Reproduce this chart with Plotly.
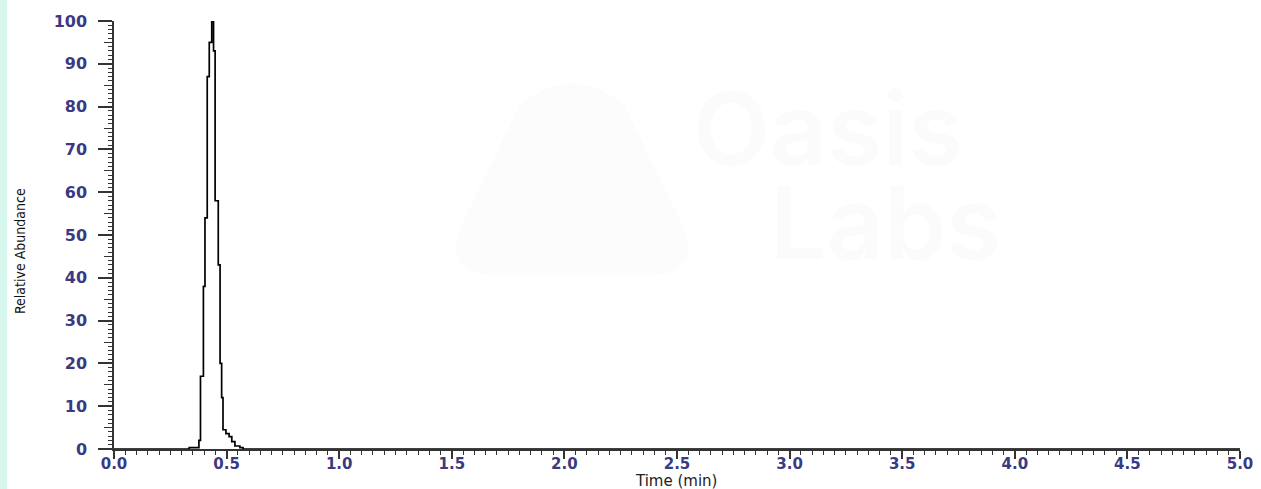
import plotly.graph_objects as go

# Chromatogram (step trace), time in minutes, relative abundance in %
time_min = [0.000, 0.334, 0.377, 0.384, 0.397, 0.404, 0.414, 0.423, 0.434, 0.442,
            0.449, 0.463, 0.471, 0.478, 0.484, 0.497, 0.511, 0.523, 0.537, 0.559,
            0.573, 5.000]
abundance = [0.0, 0.3, 2.0, 17.0, 38.0, 54.0, 87.0, 95.0, 100.0, 93.0,
             58.0, 43.0, 20.0, 12.0, 4.5, 3.6, 2.9, 1.7, 0.7, 0.3,
             0.0, 0.0]

x_ticks = [0.0, 0.5, 1.0, 1.5, 2.0, 2.5, 3.0, 3.5, 4.0, 4.5, 5.0]
x_labels = ["0.0", "0.5", "1.0", "1.5", "2.0", "2.5", "3.0", "3.5", "4.0", "4.5", "5.0"]
y_ticks = [0, 10, 20, 30, 40, 50, 60, 70, 80, 90, 100]
y_mid_ticks = [5, 15, 25, 35, 45, 55, 65, 75, 85, 95]

label_color = "#3a3a82"
axis_color = "#333333"

fig = go.Figure()
fig.add_trace(go.Scatter(
    x=time_min, y=abundance, mode="lines",
    line=dict(color="black", width=1.7, shape="hv"),
    showlegend=False, hoverinfo="x+y",
))
# invisible trace to anchor the mid-tick axis
fig.add_trace(go.Scatter(x=[0], y=[0], yaxis="y2", mode="markers",
                         marker=dict(opacity=0), showlegend=False, hoverinfo="skip"))

W, H = 1261, 489
L, R, T, B = 114, 21, 21, 40
pw, ph = W - L - R, H - T - B


def px(xp):
    return (xp - L) / pw


def py(yp):
    return (H - B - yp) / ph


fig.update_layout(
    width=W, height=H,
    margin=dict(l=L, r=R, t=T, b=B, autoexpand=False),
    paper_bgcolor="white", plot_bgcolor="white",
    xaxis=dict(
        range=[0, 5], tickvals=x_ticks, ticktext=x_labels, automargin=False,
        showgrid=False, zeroline=False, showline=True, linecolor=axis_color, linewidth=1.5,
        ticks="outside", ticklen=8, tickwidth=1.5, tickcolor=axis_color,
        minor=dict(dtick=0.05, ticks="outside", ticklen=4, tickwidth=1.2, tickcolor=axis_color),
        tickfont=dict(family="DejaVu Sans", size=15, color=label_color, weight="bold"),
        ticklabelstandoff=-8,
    ),
    yaxis=dict(
        range=[0, 100], tickvals=y_ticks, automargin=False,
        showgrid=False, zeroline=False, showline=True, linecolor=axis_color, linewidth=1.5,
        ticks="outside", ticklen=14, tickwidth=1.5, tickcolor=axis_color,
        minor=dict(dtick=1, ticks="outside", ticklen=4, tickwidth=1, tickcolor=axis_color),
        tickfont=dict(family="DejaVu Sans", size=16, color=label_color, weight="bold"),
        ticklabelstandoff=8,
    ),
    yaxis2=dict(
        range=[0, 100], overlaying="y", side="left", anchor="x", automargin=False,
        tickvals=y_mid_ticks, showticklabels=False, showgrid=False, zeroline=False,
        showline=False, ticks="outside", ticklen=9, tickwidth=1.2, tickcolor=axis_color,
    ),
)

# axis titles
fig.add_annotation(text="Time (min)", xref="paper", yref="paper",
                   x=px(676), y=py(481), showarrow=False, xanchor="center", yanchor="middle",
                   font=dict(family="DejaVu Sans", size=15, color="#222222"))
fig.add_annotation(text="Relative Abundance", xref="paper", yref="paper", textangle=-90,
                   x=px(20), y=py(251), showarrow=False, xanchor="center", yanchor="middle",
                   font=dict(family="DejaVu Sans Condensed, DejaVu Sans", size=14, color="#111111"))

# light cyan strip at the left edge of the image
fig.add_shape(type="rect", xref="paper", yref="paper",
              x0=px(0), x1=px(7), y0=py(H), y1=py(0),
              fillcolor="#d6f6ee", line=dict(width=0), layer="below")

# faint watermark (logo triangle + text)
tri = [(520, 105), (572, 62), (624, 105), (684, 228), (650, 275), (495, 275), (460, 228)]
path = (f"M {px(tri[0][0])},{py(tri[0][1])} Q {px(tri[1][0])},{py(tri[1][1])} {px(tri[2][0])},{py(tri[2][1])} "
        f"L {px(tri[3][0])},{py(tri[3][1])} Q {px(700)},{py(275)} {px(tri[4][0])},{py(tri[4][1])} "
        f"L {px(tri[5][0])},{py(tri[5][1])} Q {px(444)},{py(275)} {px(tri[6][0])},{py(tri[6][1])} Z")
fig.add_shape(type="path", xref="paper", yref="paper", path=path,
              fillcolor="#fcfcfc", line=dict(width=0), layer="below")
fig.add_annotation(text="Oasis", xref="paper", yref="paper",
                   x=px(828), y=py(128), showarrow=False,
                   xanchor="center", yanchor="middle",
                   font=dict(family="Inter", size=100, color="#fbfbfb", weight=600))
fig.add_annotation(text="Labs", xref="paper", yref="paper",
                   x=px(885), y=py(222), showarrow=False,
                   xanchor="center", yanchor="middle",
                   font=dict(family="Inter", size=100, color="#fbfbfb", weight=600))

fig.write_html("out.html", config={"displayModeBar": False},
               post_script="document.body.style.margin='0';")
